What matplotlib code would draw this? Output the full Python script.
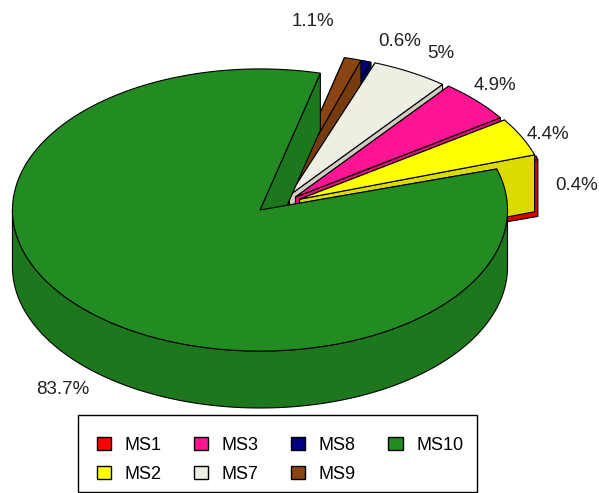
import numpy as np
import matplotlib
matplotlib.use('Agg')
import matplotlib.pyplot as plt
from matplotlib.patches import Polygon, Patch, Rectangle
from matplotlib.colors import to_rgb

plt.rcParams['font.family'] = ['Liberation Sans', 'DejaVu Sans']

names = ['MS1', 'MS2', 'MS3', 'MS7', 'MS8', 'MS9', 'MS10']
shares = [0.4, 4.4, 4.9, 5.0, 0.6, 1.1, 83.7]
pct_labels = ['0.4%', '4.4%', '4.9%', '5%', '0.6%', '1.1%', '83.7%']
colors = ['#FF0000', '#FFFF00', '#FF1493', '#EEEEE2', '#000080', '#8B4513', '#228B22']

# where each percentage is written (x radius of the pie = 1)
label_xy = [(1.211, 0.070), (1.094, 0.278), (0.880, 0.477), (0.662, 0.605),
            (0.496, 0.654), (0.145, 0.735), (-0.866, -0.753)]

# pie3D-like settings
tilt = 0.57          # y radius of the top ellipse
depth = 0.23         # thickness of the pie
explode = 0.101
explode_tilt = 0.37
start = np.deg2rad(16.9)
shade = 0.86
lw = 0.8


def draw_sector(ax, a0, a1, col):
    mid = (a0 + a1) / 2
    cx = explode * np.cos(mid)
    cy = explode * explode_tilt * np.sin(mid)
    n = max(2, int(np.ceil(np.rad2deg(a1 - a0))))
    t = np.linspace(a0, a1, n + 1)
    xs = cx + np.cos(t)
    ys = cy + tilt * np.sin(t)
    side = tuple(shade * c for c in to_rgb(col))

    # radial walls: end first, then start
    for k in (-1, 0):
        ax.add_patch(Polygon([(cx, cy), (xs[k], ys[k]), (xs[k], ys[k] - depth),
                              (cx, cy - depth)], closed=True,
                             fc=side, ec='black', lw=lw))

    # outer wall, only the front half (pi..2pi) shows
    for k in range(0, 3):
        lo = max(a0, (2 * k + 1) * np.pi)
        hi = min(a1, (2 * k + 2) * np.pi)
        if hi > lo:
            tt = np.linspace(lo, hi, 200)
            wx = cx + np.cos(tt)
            wy = cy + tilt * np.sin(tt)
            pts = list(zip(wx, wy)) + list(zip(wx[::-1], wy[::-1] - depth))
            ax.add_patch(Polygon(pts, closed=True, fc=side, ec='black', lw=lw))

    # top face
    ax.add_patch(Polygon([(cx, cy)] + list(zip(xs, ys)), closed=True,
                         fc=col, ec='black', lw=lw))


W, H = 599, 493
fig = plt.figure(figsize=(W / 100, H / 100), dpi=100)
ax = fig.add_axes([0, 0, 1, 1])
ax.set_xlim(-1.12, 1.30)
ax.set_ylim(-1.1705, 0.8214)
ax.axis('off')

frac = np.array(shares) / np.sum(shares)
edges = start + 2 * np.pi * np.concatenate([[0], np.cumsum(frac)])
mids = (edges[:-1] + edges[1:]) / 2

# thin sectors first, then the rest from back to front
order = sorted(range(len(shares)), key=lambda i: (shares[i] >= 1, -np.sin(mids[i])))
for i in order:
    draw_sector(ax, edges[i], edges[i + 1], colors[i])

for (x, y), txt in zip(label_xy, pct_labels):
    ax.text(x, y, txt, ha='center', va='center', fontsize=13.5, color='#222222')

handles = [Patch(facecolor=c, edgecolor='black', linewidth=1) for c in colors]
leg = fig.legend(handles, names, ncol=4, loc='upper left',
                 bbox_to_anchor=(78 / W, 1 - 418 / H), borderaxespad=0,
                 frameon=False, fontsize=13, handlelength=0.78, handleheight=0.75,
                 handletextpad=0.75, columnspacing=1.8, labelspacing=0.67,
                 borderpad=1.05)

# legend box
fig.patches.append(Rectangle((78 / W, 1 - 492 / H), (477 - 78) / W, (492 - 415) / H,
                             transform=fig.transFigure, fill=False,
                             ec='black', lw=1))

fig.savefig('out.png', dpi=100)
